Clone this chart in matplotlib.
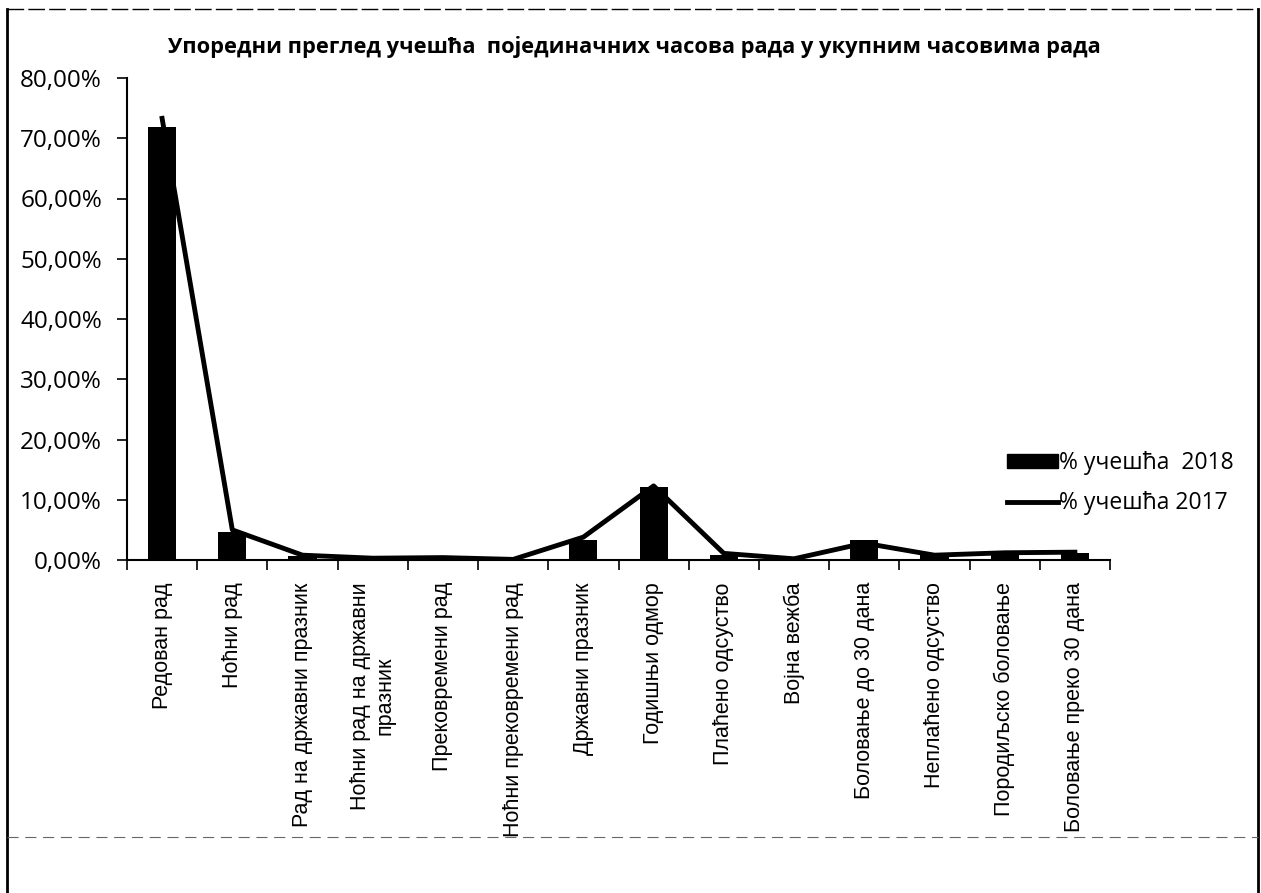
import matplotlib.pyplot as plt
from matplotlib.lines import Line2D
from matplotlib.ticker import FuncFormatter

categories = ['Редован рад', 'Ноћни рад', 'Рад на државни празник',
              'Ноћни рад на државни\nпразник', 'Прековремени рад',
              'Ноћни прековремени рад', 'Државни празник', 'Годишњи одмор',
              'Плаћено одсуство', 'Војна вежба', 'Боловање до 30 дана',
              'Неплаћено одсуство', 'Породиљско боловање', 'Боловање преко 30 дана']
pct_2018 = [71.8, 4.6, 0.6, 0.1, 0.3, 0.1, 3.3, 12.1, 0.9, 0.1, 3.3, 1.1, 1.0, 1.2]
pct_2017 = [73.3, 5.0, 0.8, 0.3, 0.4, 0.1, 3.8, 12.3, 1.1, 0.2, 2.8, 0.8, 1.2, 1.3]
title = 'Упоредни преглед учешћа  појединачних часова рада у укупним часовима рада'

W, H = 1261, 893
fig = plt.figure(figsize=(W / 100, H / 100), dpi=100)
ax = fig.add_axes([127 / W, 1 - 560 / H, (1110 - 127) / W, (560 - 78) / H])

x = list(range(len(categories)))
ax.bar(x, pct_2018, width=0.4, color='black', label='% учешћа  2018', zorder=2)
ax.plot(x, pct_2017, color='black', lw=3.5, label='% учешћа 2017', zorder=3)

ax.set_xlim(-0.5, len(categories) - 0.5)
ax.set_ylim(0, 80)
ax.set_yticks(range(0, 81, 10))
ax.yaxis.set_major_formatter(FuncFormatter(lambda v, p: f'{v:.2f}%'.replace('.', ',')))

# ticks on category boundaries, labels at centres
ax.set_xticks([i - 0.5 for i in range(len(categories) + 1)])
ax.set_xticklabels([])
ax.set_xticks(x, minor=True)
ax.set_xticklabels(categories, minor=True, rotation=90, ha='center', va='top',
                   family=['Liberation Sans', 'DejaVu Sans'], fontsize=15.5,
                   multialignment='center')
ax.tick_params(axis='x', which='minor', length=0, pad=16)
ax.tick_params(axis='x', which='major', length=7, width=1.2, direction='out')
ax.tick_params(axis='y', length=7, width=1.2, direction='out', pad=11)
for lbl in ax.get_yticklabels():
    lbl.set_family(['Open Sans', 'DejaVu Sans'])
    lbl.set_fontsize(17.5)

for s in ['top', 'right']:
    ax.spines[s].set_visible(False)
ax.spines['left'].set_linewidth(1.5)
ax.spines['bottom'].set_linewidth(1.5)

fig.text(634 / W, 1 - 47 / H, title, ha='center', va='center', fontsize=15.75,
         fontweight='bold', family=['Open Sans', 'DejaVu Sans'])

handles = [plt.Rectangle((0, 0), 1, 1, color='black'),
           Line2D([], [], color='black', lw=3.5)]
fig.legend(handles, ['% учешћа  2018', '% учешћа 2017'], loc='upper left',
           bbox_to_anchor=(998 / W, 1 - 442 / H), frameon=False,
           prop={'family': ['Open Sans', 'DejaVu Sans'], 'size': 16.5},
           handlelength=2.2, handleheight=0.6, handletextpad=0.05, labelspacing=0.7,
           borderaxespad=0)

# scanned page border
fig.add_artist(Line2D([7 / W, 7 / W], [0, 1 - 9 / H], color='black', lw=2))
fig.add_artist(Line2D([1258 / W, 1258 / W], [0, 1 - 9 / H], color='black', lw=2))
fig.add_artist(Line2D([7 / W, 1258 / W], [1 - 9 / H, 1 - 9 / H], color='black', lw=1,
                      ls=(0, (12, 3))))
fig.add_artist(Line2D([7 / W, 1258 / W], [1 - 837 / H, 1 - 837 / H], color='0.4',
                      lw=0.8, ls=(0, (10, 6))))

fig.savefig('out.png', dpi=100)
